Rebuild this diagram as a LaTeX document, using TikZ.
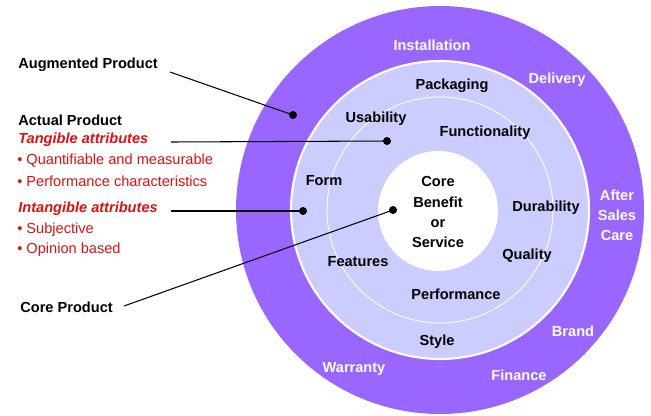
\documentclass[tikz,border=0pt]{standalone}
\usepackage{fontspec}
\setmainfont{Liberation Sans}
\usepackage{xcolor}
\definecolor{outer}{HTML}{9966FF}
\definecolor{inner}{HTML}{CCCCFF}
\definecolor{attr}{HTML}{DD1111}

\begin{document}
\begin{tikzpicture}[
  every node/.style={font=\fontsize{8.3}{11.4}\selectfont\bfseries},
  ring/.style={text=white, align=center},
  feat/.style={text=black, align=center},
  lab/.style={anchor=west, inner sep=0pt},
  sub/.style={anchor=west, inner sep=0pt, text=attr, font=\fontsize{8.3}{11.4}\selectfont},
  ptr/.style={line width=0.6pt}]
  \useasboundingbox (0,0) rectangle (13.02,8.3);

  % the three levels
  \fill[outer] (8.8,4.1) circle (4.08);
  \draw[fill=inner, draw=white, line width=1.2pt] (8.8,4.1) circle (2.98);
  \draw[white, line width=0.5pt] (8.8,4.1) circle (2.26);
  \fill[white] (8.76,4.08) circle (1.2);

  % augmented level
  \node[ring] (inst) at (8.64,7.4) {Installation};
  \node[ring] (deliv) at (11.14,6.7) {Delivery};
  \node[ring] (care) at (12.34,4.0) {After\\Sales\\Care};
  \node[ring] (brand) at (11.46,1.68) {Brand};
  \node[ring] (fin) at (10.38,0.8) {Finance};
  \node[ring] (warr) at (7.08,0.92) {Warranty};

  % actual level
  \node[feat] (pack) at (9.04,6.58) {Packaging};
  \node[feat] (usab) at (7.52,5.92) {Usability};
  \node[feat] (func) at (9.7,5.64) {Functionality};
  \node[feat] (form) at (6.48,4.68) {Form};
  \node[feat] (dura) at (10.92,4.14) {Durability};
  \node[feat] (qual) at (10.54,3.18) {Quality};
  \node[feat] (feats) at (7.16,3.06) {Features};
  \node[feat] (perf) at (9.12,2.42) {Performance};
  \node[feat] (style) at (8.74,1.46) {Style};

  % core
  \node[feat] (core) at (8.76,4.06) {Core\\Benefit\\or\\Service};

  % legend on the left
  \node[lab] (aug) at (0.36,7.0) {Augmented Product};
  \node[lab] (act) at (0.36,5.9) {Actual Product};
  \node[lab, text=attr, font=\fontsize{8.3}{11.4}\selectfont\bfseries\itshape] (tang) at (0.36,5.5) {Tangible attributes};
  \node[sub] (quant) at (0.34,5.08) {\textbullet\ Quantifiable and measurable};
  \node[sub] (perfc) at (0.34,4.68) {\textbullet\ Performance characteristics};
  \node[lab, text=attr, font=\fontsize{8.3}{11.4}\selectfont\bfseries\itshape] (intang) at (0.36,4.12) {Intangible attributes};
  \node[sub] (subj) at (0.34,3.7) {\textbullet\ Subjective};
  \node[sub] (opin) at (0.34,3.3) {\textbullet\ Opinion based};
  \node[lab] (corep) at (0.4,2.16) {Core Product};

  % pointers
  \coordinate (augs) at (3.4,6.86);
  \coordinate (tangs) at (3.42,5.46);
  \coordinate (intangs) at (3.42,4.08);
  \coordinate (cores) at (2.48,2.18);
  \coordinate (augd) at (5.86,6.0);
  \coordinate (tangd) at (7.74,5.48);
  \coordinate (intangd) at (6.06,4.08);
  \coordinate (cored) at (7.86,4.1);

  \draw[ptr] (augs) -- (augd);
  \draw[ptr] (tangs) -- (tangd);
  \draw[ptr] (intangs) -- (intangd);
  \draw[ptr] (cores) -- (cored);
  \fill (augd) circle (0.08);
  \fill (tangd) circle (0.08);
  \fill (intangd) circle (0.08);
  \fill (cored) circle (0.08);

\end{tikzpicture}
\end{document}
